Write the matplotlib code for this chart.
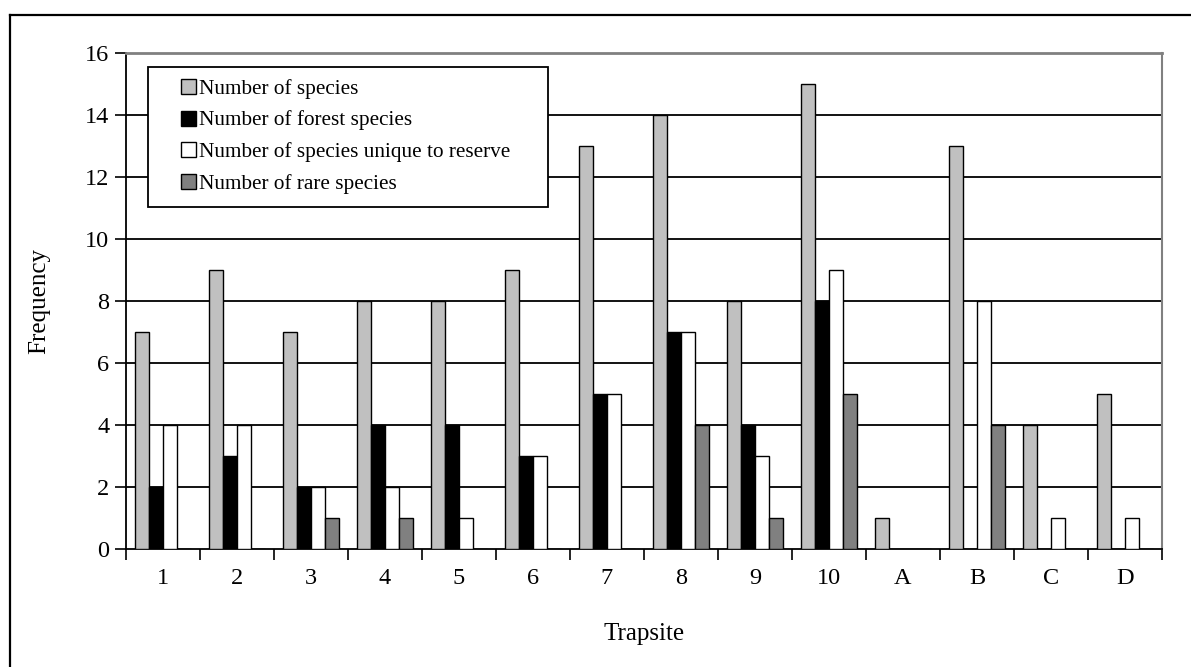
import matplotlib
matplotlib.use("Agg")
import matplotlib.pyplot as plt
import numpy as np
from matplotlib.patches import Patch, Rectangle
from matplotlib.lines import Line2D

trapsites = ["1", "2", "3", "4", "5", "6", "7", "8", "9", "10", "A", "B", "C", "D"]
n_species = [7, 9, 7, 8, 8, 9, 13, 14, 8, 15, 1, 13, 4, 5]
n_forest = [2, 3, 2, 4, 4, 3, 5, 7, 4, 8, 0, 0, 0, 0]
n_unique = [4, 4, 2, 2, 1, 3, 5, 7, 3, 9, 0, 8, 1, 1]
n_rare = [0, 0, 1, 1, 0, 0, 0, 4, 1, 5, 0, 4, 0, 0]

series_labels = ["Number of species", "Number of forest species",
                 "Number of species unique to reserve", "Number of rare species"]
series_colors = ["#C0C0C0", "#000000", "#FFFFFF", "#808080"]
yticks = [0, 2, 4, 6, 8, 10, 12, 14, 16]

plt.rcParams['font.family'] = ['Liberation Serif', 'DejaVu Serif']

W, H = 1191, 667
fig = plt.figure(figsize=(W / 100, H / 100), dpi=100)

# outer frame (top and left edges visible)
fig.add_artist(Line2D([10 / W, 1.0], [1 - 15 / H, 1 - 15 / H], color="black", lw=1.6,
                      transform=fig.transFigure))
fig.add_artist(Line2D([10 / W, 10 / W], [0.0, 1 - 15 / H], color="black", lw=1.6,
                      transform=fig.transFigure))

x0, x1, ytop, ybot = 126, 1162, 53, 549
ax = fig.add_axes([x0 / W, 1 - ybot / H, (x1 - x0) / W, (ybot - ytop) / H])

n = len(trapsites)
idx = np.arange(n)
group_w = 1 / 1.3
bw = group_w / 4
all_series = [n_species, n_forest, n_unique, n_rare]
for k, (vals, col, lab) in enumerate(zip(all_series, series_colors, series_labels)):
    xs = idx + 0.5 - group_w / 2 + bw * (k + 0.5)
    ax.bar(xs, vals, width=bw, color=col, edgecolor="black", linewidth=1.0,
           label=lab, zorder=3)

ax.set_xlim(0, n)
ax.set_ylim(0, 16)
ax.set_yticks(yticks)
ax.set_yticklabels([str(v) for v in yticks], fontsize=17.5)
ax.set_xticks(np.arange(n + 1))
ax.set_xticklabels([])
ax.set_xticks(idx + 0.5, minor=True)
ax.set_xticklabels(trapsites, minor=True, fontsize=17.5)
ax.tick_params(axis="x", which="minor", length=0, pad=14)
ax.tick_params(axis="x", which="major", length=8, width=1.2, direction="out")
ax.tick_params(axis="y", length=8, width=1.2, direction="out", pad=4)

for v in yticks[1:-1]:
    ax.axhline(v, color="black", lw=1.3, zorder=1)

ax.spines["left"].set_linewidth(1.3)
ax.spines["bottom"].set_linewidth(1.3)
ax.spines["top"].set_color("#808080")
ax.spines["right"].set_color("#808080")
ax.spines["top"].set_linewidth(2)
ax.spines["right"].set_linewidth(1.5)

ax.set_xlabel("Trapsite", fontsize=18, labelpad=24)
ax.set_ylabel("Frequency", fontsize=18, labelpad=25)

# legend box
lx0, lx1, ly0, ly1 = 148, 548, 67, 207
fig.add_artist(Rectangle((lx0 / W, 1 - ly1 / H), (lx1 - lx0) / W, (ly1 - ly0) / H,
                         transform=fig.transFigure, facecolor="white",
                         edgecolor="black", linewidth=1.3, zorder=4))
handles = [Patch(facecolor=c, edgecolor="black", linewidth=1.0) for c in series_colors]
leg = fig.legend(handles, series_labels, loc="upper left",
                 bbox_to_anchor=(181 / W, 1 - 79 / H), borderaxespad=0,
                 fontsize=15.3, frameon=False,
                 handlelength=0.7, handleheight=0.7, handletextpad=0.15,
                 labelspacing=0.55, borderpad=0.0)
leg.set_zorder(5)

fig.savefig("out.png", dpi=100)
